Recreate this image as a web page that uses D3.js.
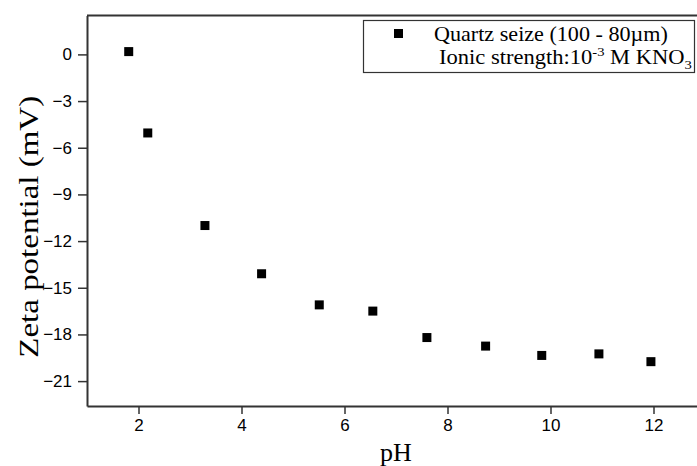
<!DOCTYPE html>
<html>
<head>
<meta charset="utf-8">
<script src="https://cdn.jsdelivr.net/npm/d3@7"></script>
<style>
  body { margin: 0; background: #fff; }
  svg { display: block; }
</style>
</head>
<body>
<svg width="697" height="466"></svg>
<script>
// pH vs zeta potential
var ph   = [1.81, 2.18, 3.29, 4.39, 5.51, 6.55, 7.6, 8.74, 9.83, 10.94, 11.95];
var zeta = [0.18, -5.05, -11.0, -14.1, -16.1, -16.5, -18.2, -18.75, -19.35, -19.25, -19.75];
var xTicks = [2, 4, 6, 8, 10, 12];
var yTicks = [0, -3, -6, -9, -12, -15, -18, -21];

var serif = "'Liberation Serif', 'Times New Roman', serif";

var margin = {top: 15.5, right: -8, bottom: 60, left: 87},
    width = 697 - margin.left - margin.right,
    height = 466 - margin.top - margin.bottom;

var svg = d3.select("svg")
  .append("g")
  .attr("transform", "translate(" + margin.left + "," + margin.top + ")");

var x = d3.scaleLinear().domain([1, 13]).range([0, width]);
var y = d3.scaleLinear().domain([-22.6, 2.5]).range([height, 0]);

var xAxis = svg.append("g")
  .attr("transform", "translate(0," + height + ")")
  .call(d3.axisBottom(x).tickValues(xTicks).tickSize(8).tickSizeOuter(0).tickPadding(5));
var yAxis = svg.append("g")
  .call(d3.axisLeft(y).tickValues(yTicks).tickSize(9).tickSizeOuter(0).tickPadding(6));

[xAxis, yAxis].forEach(function(a) {
  a.select(".domain").attr("stroke", "#333").attr("stroke-width", 2);
  a.selectAll(".tick line").attr("stroke", "#333").attr("stroke-width", 1.5);
  a.selectAll(".tick text")
    .attr("fill", "#000")
    .style("font-family", "Arial, 'Liberation Sans', sans-serif")
    .style("font-size", "17px");
});

// top and right frame lines
svg.append("line")
  .attr("x1", 0).attr("x2", width)
  .attr("y1", 0).attr("y2", 0)
  .attr("stroke", "#333").attr("stroke-width", 2);
svg.append("line")
  .attr("x1", width).attr("x2", width)
  .attr("y1", 0).attr("y2", height)
  .attr("stroke", "#333").attr("stroke-width", 2);

// points
svg.selectAll(".pt")
  .data(ph)
  .enter().append("rect")
  .attr("class", "pt")
  .attr("x", function(d) { return x(d) - 4.5; })
  .attr("y", function(d, i) { return y(zeta[i]) - 4.5; })
  .attr("width", 9)
  .attr("height", 9)
  .attr("fill", "#000");

// stretch a text to a given length along its own direction
function fit(sel, len) {
  var w = sel.node().getBBox().width;
  sel.attr("transform", (sel.attr("transform") || "") + " scale(" + (len / w) + ",1)");
}

// axis titles
var xt = svg.append("text")
  .attr("transform", "translate(" + x(7) + "," + (height + 54.5) + ")")
  .attr("text-anchor", "middle")
  .style("font-family", serif)
  .style("font-size", "26px")
  .text("pH");
fit(xt, 32);

var yt = svg.append("text")
  .attr("transform", "translate(" + (-49) + "," + (height / 2 + 16) + ") rotate(-90)")
  .attr("text-anchor", "middle")
  .style("font-family", serif)
  .style("font-size", "27px")
  .text("Zeta potential (mV)");
fit(yt, 262);

// legend
var lg = d3.select("svg").append("g");
lg.append("rect")
  .attr("x", 363.5).attr("y", 20.5)
  .attr("width", 331).attr("height", 52)
  .attr("fill", "#fff").attr("stroke", "#333").attr("stroke-width", 1.2);
lg.append("rect")
  .attr("x", 394).attr("y", 29).attr("width", 9).attr("height", 9).attr("fill", "#000");

var t1 = lg.append("text")
  .attr("transform", "translate(434,40.5)")
  .style("font-family", serif)
  .style("font-size", "20px")
  .text("Quartz seize (100 - 80\u00b5m)");
fit(t1, 234);

var t2 = lg.append("text")
  .attr("transform", "translate(439,64)")
  .style("font-family", serif)
  .style("font-size", "20px");
t2.append("tspan").text("Ionic strength:10");
t2.append("tspan").attr("dy", -8).style("font-size", "13px").text("-3");
t2.append("tspan").attr("dy", 8).text(" M KNO");
t2.append("tspan").attr("dy", 5).style("font-size", "13px").text("3");
fit(t2, 253);
</script>
</body>
</html>
